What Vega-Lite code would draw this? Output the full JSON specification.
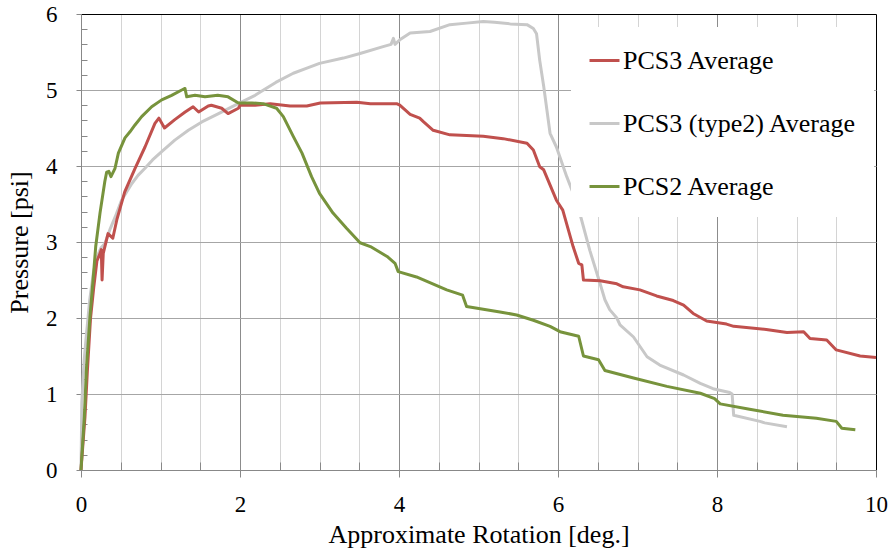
{
  "$schema": "https://vega.github.io/schema/vega-lite/v6.json",
  "width": 795,
  "height": 456,
  "autosize": "none",
  "padding": {"left": 81, "top": 14, "right": 17, "bottom": 82},
  "config": {
    "view": {"stroke": null},
    "font": "Liberation Serif",
    "axis": {"labelFont": "Liberation Serif", "titleFont": "Liberation Serif", "labelColor": "#000", "titleColor": "#000", "titleFontWeight": "normal", "labelFontSize": 23, "titleFontSize": 26, "domainColor": "#888", "tickColor": "#888"}
  },
  "data": {"values": [
    {"s":"PCS3 (type2) Average","x":0,"y":0},{"s":"PCS3 (type2) Average","x":0.005,"y":0.4},{"s":"PCS3 (type2) Average","x":0.01,"y":0.88},{"s":"PCS3 (type2) Average","x":0.04,"y":1.45},{"s":"PCS3 (type2) Average","x":0.07,"y":1.8},{"s":"PCS3 (type2) Average","x":0.11,"y":2.24},{"s":"PCS3 (type2) Average","x":0.155,"y":2.59},{"s":"PCS3 (type2) Average","x":0.2,"y":2.8},{"s":"PCS3 (type2) Average","x":0.25,"y":2.92},{"s":"PCS3 (type2) Average","x":0.3,"y":2.98},{"s":"PCS3 (type2) Average","x":0.37,"y":3.18},{"s":"PCS3 (type2) Average","x":0.43,"y":3.33},{"s":"PCS3 (type2) Average","x":0.51,"y":3.55},{"s":"PCS3 (type2) Average","x":0.64,"y":3.77},{"s":"PCS3 (type2) Average","x":0.72,"y":3.88},{"s":"PCS3 (type2) Average","x":0.805,"y":3.97},{"s":"PCS3 (type2) Average","x":0.9,"y":4.08},{"s":"PCS3 (type2) Average","x":1.015,"y":4.19},{"s":"PCS3 (type2) Average","x":1.18,"y":4.34},{"s":"PCS3 (type2) Average","x":1.35,"y":4.47},{"s":"PCS3 (type2) Average","x":1.52,"y":4.58},{"s":"PCS3 (type2) Average","x":1.73,"y":4.69},{"s":"PCS3 (type2) Average","x":1.94,"y":4.8},{"s":"PCS3 (type2) Average","x":2.19,"y":4.93},{"s":"PCS3 (type2) Average","x":2.25,"y":4.97},{"s":"PCS3 (type2) Average","x":2.45,"y":5.1},{"s":"PCS3 (type2) Average","x":2.67,"y":5.22},{"s":"PCS3 (type2) Average","x":2.85,"y":5.29},{"s":"PCS3 (type2) Average","x":3.0,"y":5.35},{"s":"PCS3 (type2) Average","x":3.3,"y":5.42},{"s":"PCS3 (type2) Average","x":3.51,"y":5.48},{"s":"PCS3 (type2) Average","x":3.8,"y":5.57},{"s":"PCS3 (type2) Average","x":3.9,"y":5.6},{"s":"PCS3 (type2) Average","x":3.93,"y":5.68},{"s":"PCS3 (type2) Average","x":3.95,"y":5.6},{"s":"PCS3 (type2) Average","x":4.01,"y":5.66},{"s":"PCS3 (type2) Average","x":4.14,"y":5.75},{"s":"PCS3 (type2) Average","x":4.39,"y":5.77},{"s":"PCS3 (type2) Average","x":4.64,"y":5.86},{"s":"PCS3 (type2) Average","x":4.85,"y":5.88},{"s":"PCS3 (type2) Average","x":5.06,"y":5.9},{"s":"PCS3 (type2) Average","x":5.2,"y":5.89},{"s":"PCS3 (type2) Average","x":5.4,"y":5.87},{"s":"PCS3 (type2) Average","x":5.61,"y":5.86},{"s":"PCS3 (type2) Average","x":5.69,"y":5.81},{"s":"PCS3 (type2) Average","x":5.73,"y":5.74},{"s":"PCS3 (type2) Average","x":5.77,"y":5.39},{"s":"PCS3 (type2) Average","x":5.82,"y":5.05},{"s":"PCS3 (type2) Average","x":5.86,"y":4.74},{"s":"PCS3 (type2) Average","x":5.9,"y":4.43},{"s":"PCS3 (type2) Average","x":5.98,"y":4.25},{"s":"PCS3 (type2) Average","x":6.11,"y":3.86},{"s":"PCS3 (type2) Average","x":6.24,"y":3.51},{"s":"PCS3 (type2) Average","x":6.4,"y":2.89},{"s":"PCS3 (type2) Average","x":6.53,"y":2.45},{"s":"PCS3 (type2) Average","x":6.59,"y":2.24},{"s":"PCS3 (type2) Average","x":6.65,"y":2.11},{"s":"PCS3 (type2) Average","x":6.74,"y":2.0},{"s":"PCS3 (type2) Average","x":6.78,"y":1.91},{"s":"PCS3 (type2) Average","x":6.95,"y":1.75},{"s":"PCS3 (type2) Average","x":7.12,"y":1.49},{"s":"PCS3 (type2) Average","x":7.28,"y":1.38},{"s":"PCS3 (type2) Average","x":7.58,"y":1.25},{"s":"PCS3 (type2) Average","x":7.79,"y":1.14},{"s":"PCS3 (type2) Average","x":7.95,"y":1.07},{"s":"PCS3 (type2) Average","x":8.16,"y":1.02},{"s":"PCS3 (type2) Average","x":8.19,"y":1.0},{"s":"PCS3 (type2) Average","x":8.21,"y":0.72},{"s":"PCS3 (type2) Average","x":8.54,"y":0.64},{"s":"PCS3 (type2) Average","x":8.6,"y":0.62},{"s":"PCS3 (type2) Average","x":8.88,"y":0.57},

    {"s":"PCS3 Average","x":0,"y":0},{"s":"PCS3 Average","x":0.05,"y":0.7},{"s":"PCS3 Average","x":0.08,"y":1.3},{"s":"PCS3 Average","x":0.12,"y":2.0},{"s":"PCS3 Average","x":0.16,"y":2.4},{"s":"PCS3 Average","x":0.2,"y":2.75},{"s":"PCS3 Average","x":0.24,"y":2.85},{"s":"PCS3 Average","x":0.255,"y":2.9},{"s":"PCS3 Average","x":0.265,"y":2.5},{"s":"PCS3 Average","x":0.28,"y":2.85},{"s":"PCS3 Average","x":0.34,"y":3.11},{"s":"PCS3 Average","x":0.4,"y":3.05},{"s":"PCS3 Average","x":0.45,"y":3.29},{"s":"PCS3 Average","x":0.55,"y":3.66},{"s":"PCS3 Average","x":0.68,"y":3.97},{"s":"PCS3 Average","x":0.805,"y":4.25},{"s":"PCS3 Average","x":0.93,"y":4.56},{"s":"PCS3 Average","x":0.98,"y":4.63},{"s":"PCS3 Average","x":1.05,"y":4.5},{"s":"PCS3 Average","x":1.18,"y":4.61},{"s":"PCS3 Average","x":1.31,"y":4.71},{"s":"PCS3 Average","x":1.41,"y":4.78},{"s":"PCS3 Average","x":1.48,"y":4.71},{"s":"PCS3 Average","x":1.6,"y":4.79},{"s":"PCS3 Average","x":1.64,"y":4.8},{"s":"PCS3 Average","x":1.77,"y":4.76},{"s":"PCS3 Average","x":1.85,"y":4.69},{"s":"PCS3 Average","x":1.98,"y":4.76},{"s":"PCS3 Average","x":2.0,"y":4.8},{"s":"PCS3 Average","x":2.19,"y":4.8},{"s":"PCS3 Average","x":2.38,"y":4.82},{"s":"PCS3 Average","x":2.63,"y":4.79},{"s":"PCS3 Average","x":2.84,"y":4.79},{"s":"PCS3 Average","x":3.01,"y":4.83},{"s":"PCS3 Average","x":3.47,"y":4.84},{"s":"PCS3 Average","x":3.64,"y":4.82},{"s":"PCS3 Average","x":3.97,"y":4.82},{"s":"PCS3 Average","x":4.01,"y":4.8},{"s":"PCS3 Average","x":4.14,"y":4.68},{"s":"PCS3 Average","x":4.26,"y":4.63},{"s":"PCS3 Average","x":4.31,"y":4.58},{"s":"PCS3 Average","x":4.43,"y":4.47},{"s":"PCS3 Average","x":4.64,"y":4.41},{"s":"PCS3 Average","x":5.06,"y":4.39},{"s":"PCS3 Average","x":5.31,"y":4.36},{"s":"PCS3 Average","x":5.61,"y":4.3},{"s":"PCS3 Average","x":5.69,"y":4.21},{"s":"PCS3 Average","x":5.77,"y":3.99},{"s":"PCS3 Average","x":5.82,"y":3.95},{"s":"PCS3 Average","x":5.98,"y":3.55},{"s":"PCS3 Average","x":6.06,"y":3.42},{"s":"PCS3 Average","x":6.19,"y":2.94},{"s":"PCS3 Average","x":6.26,"y":2.72},{"s":"PCS3 Average","x":6.3,"y":2.7},{"s":"PCS3 Average","x":6.32,"y":2.5},{"s":"PCS3 Average","x":6.53,"y":2.49},{"s":"PCS3 Average","x":6.74,"y":2.45},{"s":"PCS3 Average","x":6.82,"y":2.41},{"s":"PCS3 Average","x":7.03,"y":2.37},{"s":"PCS3 Average","x":7.24,"y":2.29},{"s":"PCS3 Average","x":7.45,"y":2.23},{"s":"PCS3 Average","x":7.58,"y":2.17},{"s":"PCS3 Average","x":7.7,"y":2.06},{"s":"PCS3 Average","x":7.87,"y":1.96},{"s":"PCS3 Average","x":8.12,"y":1.92},{"s":"PCS3 Average","x":8.21,"y":1.89},{"s":"PCS3 Average","x":8.62,"y":1.85},{"s":"PCS3 Average","x":8.88,"y":1.81},{"s":"PCS3 Average","x":9.09,"y":1.82},{"s":"PCS3 Average","x":9.17,"y":1.73},{"s":"PCS3 Average","x":9.38,"y":1.71},{"s":"PCS3 Average","x":9.5,"y":1.58},{"s":"PCS3 Average","x":9.8,"y":1.5},{"s":"PCS3 Average","x":10.0,"y":1.48},

    {"s":"PCS2 Average","x":0,"y":0},{"s":"PCS2 Average","x":0.042,"y":0.7},{"s":"PCS2 Average","x":0.07,"y":1.36},{"s":"PCS2 Average","x":0.113,"y":2.02},{"s":"PCS2 Average","x":0.155,"y":2.54},{"s":"PCS2 Average","x":0.185,"y":2.94},{"s":"PCS2 Average","x":0.239,"y":3.38},{"s":"PCS2 Average","x":0.3,"y":3.8},{"s":"PCS2 Average","x":0.323,"y":3.92},{"s":"PCS2 Average","x":0.35,"y":3.93},{"s":"PCS2 Average","x":0.377,"y":3.86},{"s":"PCS2 Average","x":0.428,"y":3.97},{"s":"PCS2 Average","x":0.47,"y":4.17},{"s":"PCS2 Average","x":0.553,"y":4.37},{"s":"PCS2 Average","x":0.616,"y":4.45},{"s":"PCS2 Average","x":0.679,"y":4.54},{"s":"PCS2 Average","x":0.763,"y":4.65},{"s":"PCS2 Average","x":0.889,"y":4.78},{"s":"PCS2 Average","x":1.015,"y":4.87},{"s":"PCS2 Average","x":1.14,"y":4.93},{"s":"PCS2 Average","x":1.267,"y":5.0},{"s":"PCS2 Average","x":1.308,"y":5.02},{"s":"PCS2 Average","x":1.33,"y":4.91},{"s":"PCS2 Average","x":1.434,"y":4.93},{"s":"PCS2 Average","x":1.56,"y":4.91},{"s":"PCS2 Average","x":1.72,"y":4.93},{"s":"PCS2 Average","x":1.85,"y":4.91},{"s":"PCS2 Average","x":1.98,"y":4.83},{"s":"PCS2 Average","x":2.15,"y":4.83},{"s":"PCS2 Average","x":2.29,"y":4.82},{"s":"PCS2 Average","x":2.46,"y":4.76},{"s":"PCS2 Average","x":2.545,"y":4.65},{"s":"PCS2 Average","x":2.67,"y":4.39},{"s":"PCS2 Average","x":2.78,"y":4.17},{"s":"PCS2 Average","x":2.9,"y":3.86},{"s":"PCS2 Average","x":3.0,"y":3.64},{"s":"PCS2 Average","x":3.17,"y":3.38},{"s":"PCS2 Average","x":3.34,"y":3.18},{"s":"PCS2 Average","x":3.51,"y":2.99},{"s":"PCS2 Average","x":3.64,"y":2.94},{"s":"PCS2 Average","x":3.85,"y":2.81},{"s":"PCS2 Average","x":3.95,"y":2.72},{"s":"PCS2 Average","x":3.99,"y":2.61},{"s":"PCS2 Average","x":4.22,"y":2.54},{"s":"PCS2 Average","x":4.6,"y":2.37},{"s":"PCS2 Average","x":4.8,"y":2.3},{"s":"PCS2 Average","x":4.85,"y":2.15},{"s":"PCS2 Average","x":5.27,"y":2.08},{"s":"PCS2 Average","x":5.48,"y":2.04},{"s":"PCS2 Average","x":5.69,"y":1.97},{"s":"PCS2 Average","x":5.9,"y":1.89},{"s":"PCS2 Average","x":6.025,"y":1.82},{"s":"PCS2 Average","x":6.26,"y":1.76},{"s":"PCS2 Average","x":6.32,"y":1.5},{"s":"PCS2 Average","x":6.51,"y":1.45},{"s":"PCS2 Average","x":6.59,"y":1.31},{"s":"PCS2 Average","x":6.95,"y":1.21},{"s":"PCS2 Average","x":7.37,"y":1.1},{"s":"PCS2 Average","x":7.79,"y":1.01},{"s":"PCS2 Average","x":7.97,"y":0.94},{"s":"PCS2 Average","x":8.04,"y":0.87},{"s":"PCS2 Average","x":8.41,"y":0.8},{"s":"PCS2 Average","x":8.83,"y":0.72},{"s":"PCS2 Average","x":9.25,"y":0.68},{"s":"PCS2 Average","x":9.5,"y":0.64},{"s":"PCS2 Average","x":9.57,"y":0.55},{"s":"PCS2 Average","x":9.74,"y":0.53}
  ]},
  "mark": {"type": "line", "strokeWidth": 3, "strokeJoin": "round"},
  "encoding": {
    "x": {
      "field": "x", "type": "quantitative",
      "scale": {"domain": [0, 10], "nice": false},
      "axis": {
        "title": "Approximate Rotation [deg.]",
        "values": [0,0.5,1,1.5,2,2.5,3,3.5,4,4.5,5,5.5,6,6.5,7,7.5,8,8.5,9,9.5,10],
        "labelExpr": "datum.value % 2 === 0 ? format(datum.value, 'd') : ''",
        "grid": true,
        "gridColor": {"condition": [{"test": "datum.value === 10", "value": "#000000"}, {"test": "datum.value % 2 === 0", "value": "#8c8c8c"}], "value": "#d4d4d4"},
        "tickSize": {"condition": {"test": "datum.value % 2 === 0", "value": 7}, "value": -8},
        "labelPadding": 16,
        "titlePadding": 5,
        "labelFlush": false,
        "labelOverlap": false
      }
    },
    "y": {
      "field": "y", "type": "quantitative",
      "scale": {"domain": [0, 6], "nice": false},
      "axis": {
        "title": "Pressure [psi]",
        "values": [0,0.2,0.4,0.6,0.8,1,1.2,1.4,1.6,1.8,2,2.2,2.4,2.6,2.8,3,3.2,3.4,3.6,3.8,4,4.2,4.4,4.6,4.8,5,5.2,5.4,5.6,5.8,6],
        "labelExpr": "datum.value % 1 === 0 ? format(datum.value, 'd') : ''",
        "grid": true,
        "gridColor": {"condition": {"test": "datum.value === 6", "value": "#000000"}, "value": "#a6a6a6"},
        "gridOpacity": {"condition": {"test": "datum.value % 1 === 0", "value": 1}, "value": 0},
        "tickSize": {"condition": {"test": "datum.value % 1 === 0", "value": 5}, "value": -6},
        "labelPadding": 19,
        "titlePadding": 13,
        "labelOverlap": false
      }
    },
    "color": {
      "field": "s", "type": "nominal",
      "scale": {"domain": ["PCS3 Average", "PCS3 (type2) Average", "PCS2 Average"], "range": ["#C0504D", "#C8C8C8", "#77933C"]},
      "legend": {
        "title": null,
        "orient": "none",
        "legendX": 490,
        "legendY": 13,
        "fillColor": "#ffffff",
        "padding": 17,
        "rowPadding": 33,
        "symbolType": "stroke",
        "symbolSize": 900,
        "symbolStrokeWidth": 3,
        "labelFont": "Liberation Serif",
        "labelFontSize": 26,
        "labelColor": "#000",
        "labelOffset": 2,
        "labelLimit": 400
      }
    }
  }
}
